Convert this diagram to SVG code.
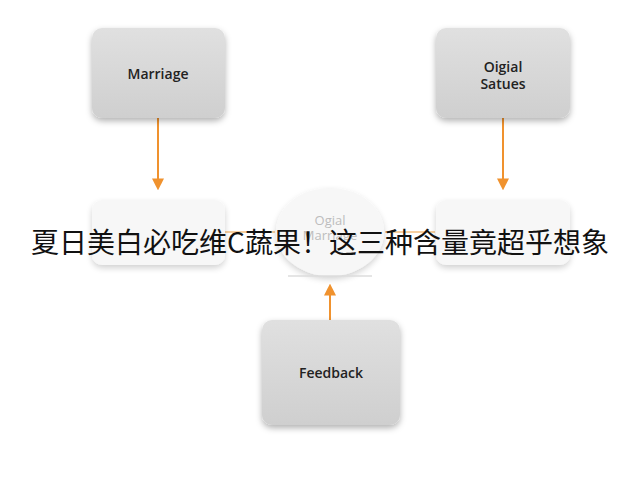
<svg xmlns="http://www.w3.org/2000/svg" width="640" height="480" viewBox="0 0 640 480">
<defs>
<filter id="sh" x="-20%" y="-20%" width="140%" height="150%"><feDropShadow dx="0" dy="3" stdDeviation="3" flood-color="#000" flood-opacity="0.3"/></filter>
<linearGradient id="g" x1="0" y1="0" x2="0" y2="1"><stop offset="0" stop-color="#e0e0e0"/><stop offset="1" stop-color="#cfcfcf"/></linearGradient>
<marker id="ah" viewBox="0 0 10 10" refX="8" refY="5" markerWidth="6" markerHeight="6" orient="auto"><path d="M0,0L10,5L0,10z" fill="#f0922e"/></marker>
</defs>
<style>
.box{fill:url(#g);filter:url(#sh)}
.fade{fill:#f2f2f2;filter:url(#sh);opacity:.6}
.t{font-family:"Open Sans","Liberation Sans",sans-serif;font-size:14px;fill:#222;text-anchor:middle;font-weight:600}
.ft{font-family:"Open Sans","Liberation Sans",sans-serif;font-size:13px;fill:#bdbdbd;text-anchor:middle}
.c{stroke:#f0922e;stroke-width:2;fill:none;marker-end:url(#ah)}
.cf{stroke:#f7cfa0;stroke-width:2;fill:none}
</style>
<rect width="640" height="480" fill="#fff"/>
<g id="connectors">
<line class="c" x1="158" y1="118" x2="158" y2="188"/>
<line class="c" x1="503" y1="118" x2="503" y2="188"/>
<line class="c" x1="330" y1="320" x2="330" y2="286"/>
<line class="cf" x1="225" y1="232" x2="275" y2="232"/>
<line class="cf" x1="385" y1="232" x2="435" y2="232"/>
</g>
<g id="marriage"><rect class="box" x="92" y="28" width="133" height="90" rx="10"/><text class="t" x="158" y="79">Marriage</text></g>
<g id="ogial-satues"><rect class="box" x="436" y="28" width="134" height="90" rx="10"/><text class="t" x="503" y="72">Oigial</text><text class="t" x="503" y="89">Satues</text></g>
<g id="mid-left"><rect class="fade" x="92" y="200" width="133" height="65" rx="10"/></g>
<g id="mid-center"><ellipse class="fade" cx="330" cy="232" rx="54" ry="44"/><line x1="288" y1="276" x2="372" y2="276" stroke="#ddd" stroke-width="1.5"/><text class="ft" x="330" y="225">Ogial</text><text class="ft" x="330" y="240">Marriage</text></g>
<g id="mid-right"><rect class="fade" x="436" y="200" width="134" height="65" rx="10"/></g>
<g id="feedback"><rect class="box" x="262" y="320" width="138" height="105" rx="10"/><text class="t" x="331" y="378">Feedback</text></g>
<text x="320" y="253" font-family="'Noto Sans CJK SC',sans-serif" font-size="28" fill="#111" text-anchor="middle">夏日美白必吃维C蔬果！这三种含量竟超乎想象</text>
</svg>
